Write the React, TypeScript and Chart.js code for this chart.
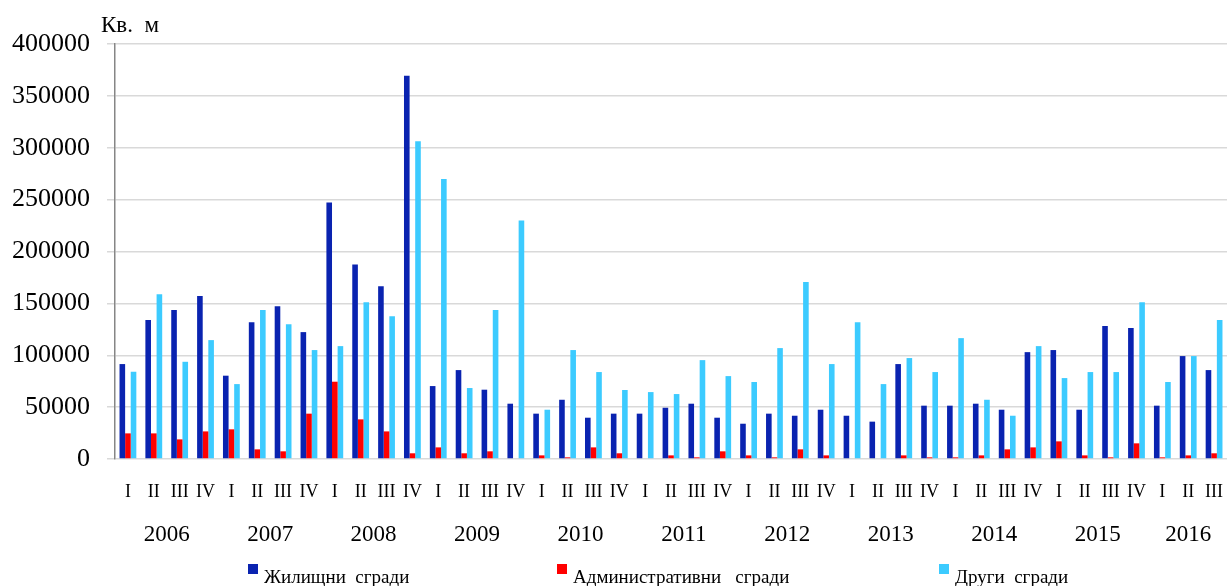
import React, { useEffect, useRef } from "react";
import { Chart, registerables } from "chart.js";

Chart.register(...registerables);

const years = ["2006", "2007", "2008", "2009", "2010", "2011", "2012", "2013", "2014", "2015", "2016"];
const quarterNames = ["I", "II", "III", "IV"];
// 2006 Q1 .. 2016 Q3
const quarters: string[] = [];
years.forEach((y, i) => {
  const n = i === years.length - 1 ? 3 : 4;
  for (let q = 0; q < n; q++) quarters.push(quarterNames[q]);
});
const yearCenters = [1.5, 5.5, 9.5, 13.5, 17.5, 21.5, 25.5, 29.5, 33.5, 37.5, 41];

const residential = [
  91500, 133900, 143500, 157000,
  80300, 131900, 147300, 122300,
  247200, 187500, 166600, 369500,
  70300, 85700, 66800, 53300,
  43700, 57100, 39800, 43700,
  43700, 49400, 53300, 39800,
  34000, 43700, 41700, 47500,
  41700, 36000, 91500, 51400,
  51400, 53300, 47500, 103000,
  105000, 47500, 128100, 126200,
  51400, 99200, 85700,
];
const administrative = [
  24700, 24700, 18900, 26600,
  28600, 9300, 7400, 43700,
  74500, 38200, 26600, 5500,
  11200, 5500, 7400, 0,
  3500, 1600, 11200, 5500,
  0, 3500, 1600, 7400,
  3500, 1600, 9300, 3500,
  0, 0, 3500, 1600,
  1600, 3500, 9300, 11200,
  17000, 3500, 1600, 15100,
  1600, 3500, 5500,
];
const other = [
  84100, 158900, 93700, 114600,
  72200, 143500, 130000, 105000,
  108800, 151200, 137700, 306300,
  270000, 68400, 143500, 229900,
  47500, 105000, 83800, 66500,
  64500, 62600, 95300, 79900,
  74200, 106900, 170500, 91500,
  131900, 72200, 97300, 83800,
  116500, 57100, 41700, 108800,
  78000, 83800, 83800, 151200,
  74200, 99200, 133900,
];

const seriesNames = ["Жилищни  сгради", "Административни   сгради", "Други  сгради"];
const seriesColors = ["#0a23b0", "#ff0000", "#3ccbff"];
const unitLabel = "Кв.  м";

const FONT = "'Liberation Serif', 'Times New Roman', serif";

export default function App() {
  const ref = useRef<HTMLCanvasElement | null>(null);

  useEffect(() => {
    document.body.style.margin = "0";
    const canvas = ref.current;
    if (!canvas) return;

    const unitPlugin = {
      id: "unitLabel",
      afterDraw(chart: any) {
        const ctx = chart.ctx;
        ctx.save();
        ctx.font = `23px ${FONT}`;
        ctx.fillStyle = "#000";
        ctx.textBaseline = "alphabetic";
        ctx.textAlign = "left";
        ctx.fillText(unitLabel, 101, 32);
        ctx.restore();
      },
    };

    const chart = new Chart(canvas, {
      type: "bar",
      data: {
        labels: quarters,
        datasets: [residential, administrative, other].map((d, i) => ({
          label: seriesNames[i],
          data: d,
          backgroundColor: seriesColors[i],
          borderWidth: 0,
          categoryPercentage: 0.65,
          barPercentage: 1.0,
          xAxisID: "x",
        })),
      },
      options: {
        animation: false,
        responsive: false,
        maintainAspectRatio: false,
        layout: { padding: { top: 44, right: 1, bottom: 35.6, left: 0 } },
        plugins: {
          legend: { display: false },
          tooltip: { enabled: false },
          title: { display: false },
        },
        scales: {
          x: {
            type: "category",
            position: "bottom",
            offset: true,
            grid: { display: false, drawTicks: true, tickLength: 20 },
            border: { display: false },
            ticks: {
              autoSkip: false,
              maxRotation: 0,
              minRotation: 0,
              padding: 2,
              color: "#000",
              font: { family: FONT, size: 18 },
            },
          },
          x2: {
            type: "linear",
            position: "bottom",
            offset: false,
            min: -0.5,
            max: 42.5,
            grid: { display: false, offset: false, drawTicks: true, tickLength: 15 },
            border: { display: false },
            afterBuildTicks: (scale: any) => {
              scale.ticks = yearCenters.map((v) => ({ value: v }));
            },
            ticks: {
              autoSkip: false,
              maxRotation: 0,
              minRotation: 0,
              padding: 1.6,
              color: "#000",
              font: { family: FONT, size: 23 },
              callback: (_v: any, i: number) => years[i],
            },
          },
          y: {
            min: 0,
            max: 400000,
            afterFit: (scale: any) => {
              scale.width = 115;
            },
            grid: {
              color: "#d9d9d9",
              lineWidth: 1.5,
              drawTicks: true,
              tickLength: 8,
            },
            border: { display: true, color: "#868686", width: 1.5 },
            ticks: {
              stepSize: 50000,
              padding: 17,
              color: "#000",
              font: { family: FONT, size: 26 },
              callback: (v: any) => String(v),
            },
          },
        },
      },
      plugins: [unitPlugin],
    } as any);

    return () => chart.destroy();
  }, []);

  const legendItems = [
    { left: 248, name: seriesNames[0], color: seriesColors[0] },
    { left: 557, name: seriesNames[1], color: seriesColors[1] },
    { left: 939, name: seriesNames[2], color: seriesColors[2] },
  ];

  return (
    <div style={{ position: "relative", width: 1228, height: 586, overflow: "hidden" }}>
      <canvas ref={ref} width={1228} height={586} style={{ display: "block" }} />
      {legendItems.map((it) => (
        <React.Fragment key={it.name}>
          <div
            style={{
              position: "absolute",
              left: it.left,
              top: 564,
              width: 10,
              height: 10,
              background: it.color,
            }}
          />
          <div
            style={{
              position: "absolute",
              left: it.left + 16,
              top: 567,
              fontFamily: FONT,
              fontSize: 19,
              lineHeight: "19px",
              color: "#000",
              whiteSpace: "pre",
            }}
          >
            {it.name}
          </div>
        </React.Fragment>
      ))}
    </div>
  );
}
